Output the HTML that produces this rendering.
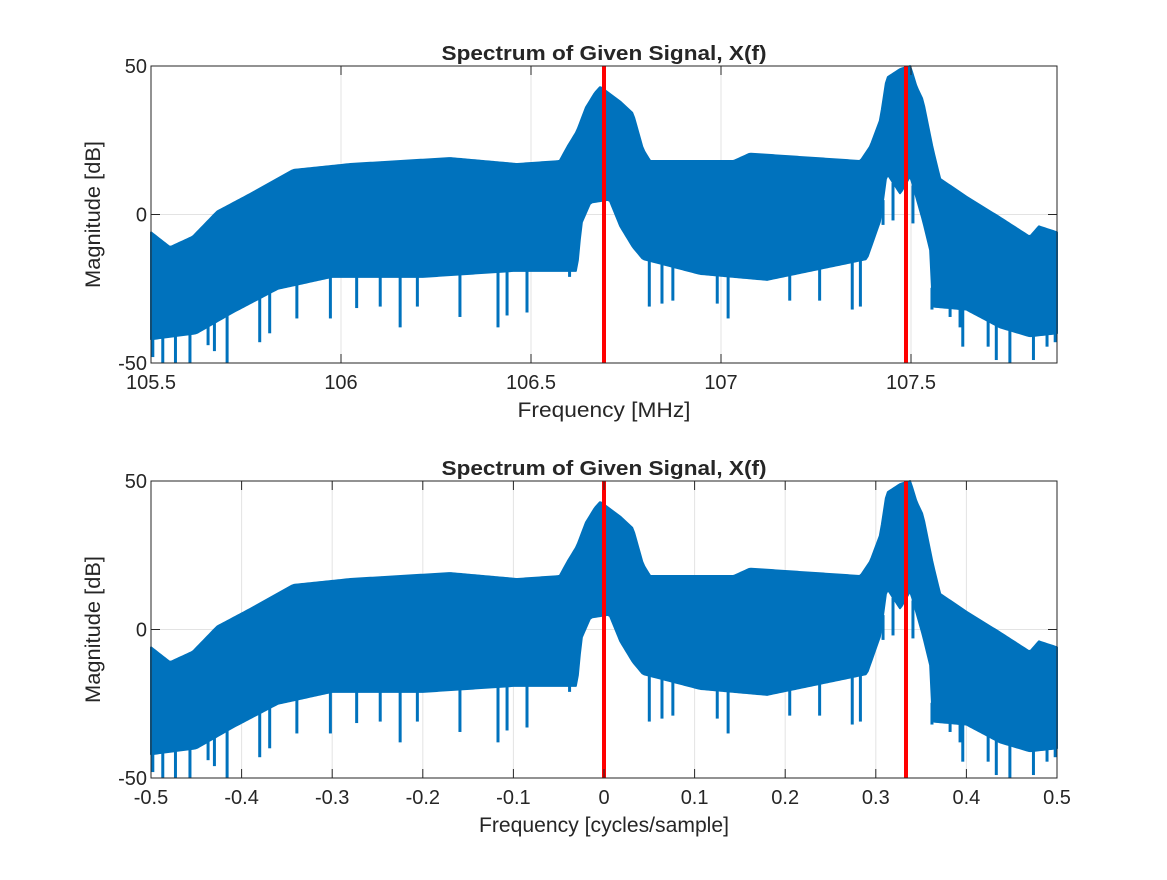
<!DOCTYPE html>
<html><head><meta charset="utf-8"><style>
body{margin:0;background:#fff;}
svg text{font-family:"Liberation Sans",Arial,sans-serif;fill:#262626;}
</style></head><body>
<svg id="fig" width="1167" height="875" xmlns="http://www.w3.org/2000/svg"></svg>
<script>
// normalized frequency envelope data (dB)
const upperF=[-0.5,-0.479,-0.454,-0.427,-0.39,-0.343,-0.28,-0.17,-0.096,-0.049,-0.04,-0.03,-0.02,-0.01,-0.004,0.018,0.032,0.043,0.051,0.143,0.161,0.283,0.294,0.305,0.312,0.327,0.338,0.345,0.352,0.363,0.371,0.4,0.437,0.47,0.48,0.5];
const upperV=[-6,-11,-7.5,1,7,15,17,19,17,18,23,28,36,41,43,38,34,22,18,18,20.5,18,23,32,46,49,50,43,38.5,22,12,6,-1,-7.5,-4,-6];
const lowerF=[-0.5,-0.45,-0.41,-0.36,-0.3,-0.2,-0.1,-0.03,-0.025,-0.015,0.006,0.018,0.032,0.043,0.106,0.18,0.29,0.305,0.312,0.327,0.338,0.352,0.36,0.363,0.4,0.437,0.47,0.5];
const lowerV=[-42,-40,-33,-25,-21,-21,-19,-19,-3,4,5,-4,-11,-15,-20,-22,-15,-2,14,7,13,-2,-12,-31,-32,-38,-41,-40];
const spikeF=[-0.498,-0.487,-0.473,-0.457,-0.437,-0.43,-0.416,-0.38,-0.369,-0.339,-0.302,-0.273,-0.247,-0.225,-0.206,-0.159,-0.117,-0.107,-0.085,-0.038,0.05,0.064,0.076,0.125,0.137,0.205,0.238,0.274,0.283,0.308,0.319,0.341,0.362,0.382,0.393,0.396,0.424,0.433,0.448,0.474,0.489,0.498];
const spikeV=[-48,-50,-50,-50,-44,-46,-50,-43,-40,-35,-35,-31.5,-31,-38,-31,-34.5,-38,-34,-33,-21,-31,-30,-29,-30,-35,-29,-29,-32,-31,-3.5,-2,-3,-32,-34.5,-38,-44.5,-44.5,-49,-50,-49,-44.5,-43];
const redLines=[0,1/3];
const topTicks=[105.5,106,106.5,107,107.5];
const botTicks=[-0.5,-0.4,-0.3,-0.2,-0.1,0,0.1,0.2,0.3,0.4,0.5];
const yTicks=[-50,0,50];
const fig=document.getElementById('fig');
const NS='http://www.w3.org/2000/svg';
function mk(tag,attrs,parent){const e=document.createElementNS(NS,tag);for(const k in attrs)e.setAttribute(k,attrs[k]);(parent||fig).appendChild(e);return e;}
function interp(F,V,f){if(f<=F[0])return V[0];for(let i=0;i<F.length-1;i++){if(f>=F[i]&&f<=F[i+1]){const t=(f-F[i])/(F[i+1]-F[i]);return V[i]+t*(V[i+1]-V[i]);}}return V[V.length-1];}
function plot(top,ticks,tickFn,xlabel,xlabelLen,name){
  const L=151,R=1057,T=top,B=top+297;
  const xs=f=>L+(f+0.5)*(R-L);
  const ys=v=>B-(Math.max(-50,Math.min(50,v))+50)/100*(B-T);
  const g=mk('g',{});
  
  
  mk('rect',{x:L,y:T,width:R-L,height:B-T,fill:'#fff'},g);
  ticks.forEach(t=>{const x=xs(tickFn(t));mk('line',{x1:x,x2:x,y1:T,y2:B,stroke:'#e3e3e3'},g);});
  yTicks.forEach(v=>{const y=ys(v);mk('line',{x1:L,x2:R,y1:y,y2:y,stroke:'#e3e3e3'},g);});
  let pts=[];const N=450;
  for(let i=0;i<=N;i++){const f=-0.5+i/N;pts.push(xs(f)+','+ys(interp(upperF,upperV,f)));}
  for(let i=N;i>=0;i--){const f=-0.5+i/N;pts.push(xs(f)+','+ys(interp(lowerF,lowerV,f)));}
  const band=mk('polygon',{points:pts.join(' '),fill:'#0072bd',stroke:'#0072bd','stroke-width':2,'stroke-linejoin':'round'},g);
  
  
  spikeF.forEach((f,i)=>{const sp=mk('line',{x1:xs(f),x2:xs(f),y1:ys(interp(lowerF,lowerV,f)),y2:ys(spikeV[i]),stroke:'#0072bd','stroke-width':3},g);
    
    });
  redLines.forEach(f=>{const r=mk('line',{x1:xs(f),x2:xs(f),y1:T,y2:B,stroke:'#ff0000','stroke-width':4},g);
    
    });
  mk('rect',{x:L,y:T,width:R-L,height:B-T,fill:'none',stroke:'#262626','stroke-width':1},g);
  ticks.forEach(t=>{const x=xs(tickFn(t));mk('line',{x1:x,x2:x,y1:B,y2:B-9,stroke:'#262626'},g);mk('line',{x1:x,x2:x,y1:T,y2:T+9,stroke:'#262626'},g);
    const tx=mk('text',{x:x,y:B+26,'text-anchor':'middle','font-size':20},g);tx.textContent=String(t);
    });
  yTicks.forEach(v=>{const y=ys(v);mk('line',{x1:L,x2:L+9,y1:y,y2:y,stroke:'#262626'},g);mk('line',{x1:R,x2:R-9,y1:y,y2:y,stroke:'#262626'},g);
    const tx=mk('text',{x:L-4,y:y+7,'text-anchor':'end','font-size':20},g);tx.textContent=String(v);
    });
  const ti=mk('text',{x:(L+R)/2,y:T-6,'text-anchor':'middle','font-size':20,'font-weight':'bold',fill:'#000',textLength:325,lengthAdjust:'spacingAndGlyphs'},g);ti.textContent='Spectrum of Given Signal, X(f)';
  
  const xl=mk('text',{x:(L+R)/2,y:B+54,'text-anchor':'middle','font-size':21,textLength:xlabelLen,lengthAdjust:'spacingAndGlyphs'},g);xl.textContent=xlabel;
  
  const yl=mk('text',{x:0,y:0,'text-anchor':'middle','font-size':21,textLength:147,lengthAdjust:'spacingAndGlyphs',transform:`translate(100,${(T+B)/2}) rotate(-90)`},g);yl.textContent='Magnitude [dB]';
  
}
plot(66,topTicks,t=>(t-105.5)*380/906-0.5,'Frequency [MHz]',173,'top-spectrum-chart');
plot(481,botTicks,t=>t,'Frequency [cycles/sample]',250,'bottom-spectrum-chart');
</script>
</body></html>
